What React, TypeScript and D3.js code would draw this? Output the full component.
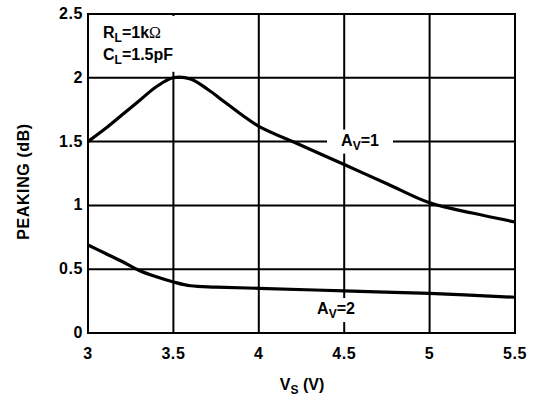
import React, { useEffect, useRef } from 'react'
import * as d3 from 'd3'

// supply voltage (V) and peaking (dB)
const av1Vs = [3, 3.1, 3.2, 3.3, 3.4, 3.5, 3.6, 3.7, 3.8, 3.9, 4, 4.25, 4.5, 4.75, 5, 5.25, 5.5]
const av1Peak = [1.5, 1.6, 1.71, 1.82, 1.93, 2.0, 1.99, 1.91, 1.81, 1.71, 1.62, 1.47, 1.32, 1.17, 1.02, 0.94, 0.87]
const av2Vs = [3, 3.1, 3.2, 3.3, 3.4, 3.5, 3.6, 3.75, 4, 4.5, 5, 5.5]
const av2Peak = [0.69, 0.625, 0.56, 0.49, 0.44, 0.4, 0.37, 0.36, 0.35, 0.33, 0.31, 0.28]
const xTicks = [3, 3.5, 4, 4.5, 5, 5.5]
const yTicks = [0, 0.5, 1, 1.5, 2, 2.5]

const W = 538
const H = 402
const m = { left: 88, right: 23, top: 14, bottom: 69 }
const font = 'Liberation Sans, Arial, sans-serif'
const fs = 16

export default function App() {
  const ref = useRef<SVGSVGElement | null>(null)

  useEffect(() => {
    if (!ref.current) return
    const svg = d3.select(ref.current)
    svg.selectAll('*').remove()

    const x = d3.scaleLinear().domain([3, 5.5]).range([m.left, W - m.right])
    const y = d3.scaleLinear().domain([0, 2.5]).range([H - m.bottom, m.top])

    const g = svg.append('g')

    // grid
    g.selectAll('line.vg')
      .data(xTicks.slice(1, -1))
      .join('line')
      .attr('x1', (d) => x(d))
      .attr('x2', (d) => x(d))
      .attr('y1', y(0))
      .attr('y2', y(2.5))
      .attr('stroke', '#000')
      .attr('stroke-width', 2)
    g.selectAll('line.hg')
      .data(yTicks.slice(1, -1))
      .join('line')
      .attr('x1', x(3))
      .attr('x2', x(5.5))
      .attr('y1', (d) => y(d))
      .attr('y2', (d) => y(d))
      .attr('stroke', '#000')
      .attr('stroke-width', 2)

    // knockout behind the conditions block
    g.append('rect')
      .attr('x', x(3) + 2)
      .attr('y', y(2.5) + 2)
      .attr('width', 94)
      .attr('height', y(2) - y(2.5) - 8)
      .attr('fill', '#fff')

    // tick labels
    g.selectAll('text.xt')
      .data(xTicks)
      .join('text')
      .attr('x', (d) => x(d))
      .attr('y', y(0) + 26)
      .attr('text-anchor', 'middle')
      .attr('font-family', font)
      .attr('font-weight', 'bold')
      .attr('font-size', fs)
      .attr('letter-spacing', 0.6)
      .text((d) => String(d))
    g.selectAll('text.yt')
      .data(yTicks)
      .join('text')
      .attr('x', m.left - 5)
      .attr('y', (d) => y(d) + 5)
      .attr('text-anchor', 'end')
      .attr('font-family', font)
      .attr('font-weight', 'bold')
      .attr('font-size', fs)
      .attr('letter-spacing', 0.6)
      .text((d) => String(d))

    // curves
    const line = d3
      .line<[number, number]>()
      .x((d) => x(d[0]))
      .y((d) => y(d[1]))
      .curve(d3.curveCatmullRom.alpha(0.5))
    const series = [
      av1Vs.map((v, i) => [v, av1Peak[i]] as [number, number]),
      av2Vs.map((v, i) => [v, av2Peak[i]] as [number, number]),
    ]
    g.selectAll('path.curve')
      .data(series)
      .join('path')
      .attr('d', (d) => line(d))
      .attr('fill', 'none')
      .attr('stroke', '#000')
      .attr('stroke-width', 3.2)
      .attr('stroke-linejoin', 'round')

    // frame
    g.append('rect')
      .attr('x', x(3))
      .attr('y', y(2.5))
      .attr('width', x(5.5) - x(3))
      .attr('height', y(0) - y(2.5))
      .attr('fill', 'none')
      .attr('stroke', '#000')
      .attr('stroke-width', 2)

    // curve labels with white knockouts
    const labels = [
      { vs: 4.5, pk: 1.5, rest: '=1', bx: 327, bw: 66 },
      { vs: 4.5, pk: 0.18, rest: '=2', bx: 311, bw: 50 },
    ]
    labels.forEach((l) => {
      const cy = y(l.pk)
      g.append('rect')
        .attr('x', l.bx)
        .attr('y', cy - 12)
        .attr('width', l.bw)
        .attr('height', 24)
        .attr('fill', '#fff')
      const t = g
        .append('text')
        .attr('x', l.bx + l.bw / 2)
        .attr('y', cy + 4)
        .attr('text-anchor', 'middle')
        .attr('font-family', font)
        .attr('font-weight', 'bold')
        .attr('font-size', fs)
      t.append('tspan').text('A')
      t.append('tspan').attr('dy', 4).attr('font-size', 12).text('V')
      t.append('tspan').attr('dy', -4).text(l.rest)
    })

    // conditions
    const cond = g
      .append('text')
      .attr('font-family', font)
      .attr('font-weight', 'bold')
      .attr('font-size', fs)
    const r1 = cond.append('tspan').attr('x', 103).attr('y', 38)
    r1.append('tspan').text('R')
    r1.append('tspan').attr('dy', 4).attr('font-size', 12).text('L')
    r1.append('tspan').attr('dy', -4).text('=1k')
    r1.append('tspan')
      .attr('font-weight', 'normal')
      .attr('font-family', 'Liberation Serif, serif')
      .text('Ω')
    const r2 = cond.append('tspan').attr('x', 103).attr('y', 60)
    r2.append('tspan').text('C')
    r2.append('tspan').attr('dy', 4).attr('font-size', 12).text('L')
    r2.append('tspan').attr('dy', -4).text('=1.5pF')

    // axis titles
    const xt = g
      .append('text')
      .attr('x', 302)
      .attr('y', 390)
      .attr('text-anchor', 'middle')
      .attr('font-family', font)
      .attr('font-weight', 'bold')
      .attr('font-size', fs)
    xt.append('tspan').text('V')
    xt.append('tspan').attr('dy', 4).attr('font-size', 12).text('S')
    xt.append('tspan').attr('dy', -4).text(' (V)')

    g.append('text')
      .attr('transform', `translate(29,${(y(0) + y(2.5)) / 2 + 8}) rotate(-90)`)
      .attr('text-anchor', 'middle')
      .attr('font-family', font)
      .attr('font-weight', 'bold')
      .attr('font-size', fs)
      .attr('letter-spacing', 0.6)
      .text('PEAKING (dB)')
  }, [])

  return (
    <svg
      ref={ref}
      width={W}
      height={H}
      style={{ position: 'absolute', left: 0, top: 0, background: '#fff' }}
    />
  )
}
